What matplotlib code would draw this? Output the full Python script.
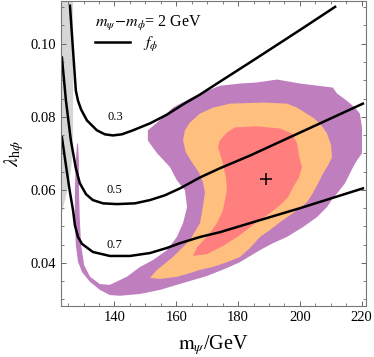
import matplotlib
matplotlib.use("Agg")
import matplotlib.pyplot as plt
from matplotlib.lines import Line2D

plt.rcParams["font.family"] = ["Liberation Serif", "DejaVu Serif"]
plt.rcParams["mathtext.fontset"] = "stix"

# allowed regions (purple = outer, orange = middle, red = inner)
purple_x = [127.9, 127.5, 127.2, 127.2, 127.5, 128.2, 129.5, 132.1, 135.3, 138.5,
            141.8, 148.3, 154.7, 162.2, 169.9, 176.4, 180.6, 187.1, 191.3, 195.8,
            201.0, 205.5, 208.8, 210.7, 212.3, 214.6, 216.2, 217.2, 218.5, 220.1,
            220.1, 219.4, 217.8, 215.2, 212.0, 210.7, 200.1, 192.6, 186.1, 180.6,
            174.1, 168.6, 164.4, 158.9, 153.8, 150.8, 150.8, 153.8, 158.0, 160.2,
            162.8, 163.5, 162.2, 160.2, 157.0, 152.5, 148.3, 144.0, 138.5, 135.3,
            132.1, 130.2, 129.2, 128.8, 128.5, 128.5, 128.2]
purple_y = [0.0727, 0.0681, 0.0599, 0.0517, 0.0449, 0.0403, 0.0375, 0.0348, 0.0326, 0.0312,
            0.0310, 0.0315, 0.0326, 0.0345, 0.0364, 0.0386, 0.0402, 0.0435, 0.0454, 0.0471,
            0.0498, 0.0525, 0.0553, 0.0577, 0.0593, 0.0618, 0.0645, 0.0662, 0.0681, 0.0700,
            0.0771, 0.0809, 0.0825, 0.0844, 0.0864, 0.0880, 0.0891, 0.0902, 0.0894, 0.0891,
            0.0885, 0.0866, 0.0850, 0.0825, 0.0784, 0.0763, 0.0735, 0.0700, 0.0662, 0.0626,
            0.0599, 0.0553, 0.0509, 0.0471, 0.0435, 0.0408, 0.0389, 0.0362, 0.0340, 0.0342,
            0.0362, 0.0394, 0.0449, 0.0517, 0.0599, 0.0681, 0.0727]

orange_x = [151.5, 154.7, 160.2, 164.4, 167.7, 171.9, 176.4, 180.6, 183.9, 187.1,
            190.3, 194.5, 199.1, 202.3, 204.2, 205.9, 207.5, 209.1, 210.4, 210.1,
            208.8, 206.5, 204.2, 199.1, 195.8, 188.1, 177.4, 171.9, 167.7, 164.4,
            162.8, 162.2, 163.1, 165.1, 167.3, 168.6, 169.3, 168.6, 167.7, 164.4,
            158.9, 153.8]
orange_y = [0.0359, 0.0356, 0.0362, 0.0372, 0.0381, 0.0389, 0.0402, 0.0416, 0.0441, 0.0471,
            0.0490, 0.0517, 0.0544, 0.0566, 0.0591, 0.0618, 0.0645, 0.0667, 0.0689, 0.0722,
            0.0754, 0.0782, 0.0798, 0.0825, 0.0836, 0.0839, 0.0836, 0.0825, 0.0809, 0.0784,
            0.0763, 0.0735, 0.0703, 0.0675, 0.0648, 0.0621, 0.0593, 0.0553, 0.0509, 0.0462,
            0.0416, 0.0381]

red_x = [174.1, 176.4, 179.0, 186.1, 193.6, 197.4, 199.1, 199.7, 200.7, 199.7,
         197.8, 196.2, 193.6, 190.3, 186.1, 180.6, 175.1, 169.9, 165.4, 166.7,
         169.9, 173.2, 175.1, 176.4, 176.1, 174.8, 173.5]
red_y = [0.0735, 0.0757, 0.0771, 0.0774, 0.0768, 0.0754, 0.0727, 0.0694, 0.0662, 0.0634,
         0.0607, 0.0580, 0.0558, 0.0536, 0.0512, 0.0476, 0.0446, 0.0424, 0.0419, 0.0443,
         0.0471, 0.0509, 0.0544, 0.0599, 0.0634, 0.0681, 0.0716]

# excluded band at the left edge
gray_x = [122.7, 126.6, 126.6, 126.0, 125.0, 124.0, 123.0, 122.7]
gray_y = [0.112, 0.112, 0.0727, 0.0662, 0.0607, 0.0572, 0.0536, 0.0536]

# f_phi contours
f03_x = [125.6, 126.6, 127.5, 128.2, 129.2, 131.1, 134.3, 136.9, 139.5, 142.4,
         146.0, 151.5, 157.0, 162.2, 167.7, 174.1, 184.8, 200.1, 211.4]
f03_y = [0.1104, 0.0981, 0.0872, 0.0844, 0.0820, 0.0790, 0.0763, 0.0752, 0.0749, 0.0752,
         0.0763, 0.0782, 0.0806, 0.0834, 0.0861, 0.0896, 0.0954, 0.1038, 0.1101]
f05_x = [123.0, 124.3, 125.9, 127.5, 128.8, 130.8, 133.0, 136.3, 140.8, 146.6,
         151.5, 156.3, 161.2, 167.7, 174.1, 183.9, 200.1, 220.4]
f05_y = [0.0962, 0.0844, 0.0735, 0.0659, 0.0618, 0.0588, 0.0572, 0.0563, 0.0561, 0.0563,
         0.0572, 0.0585, 0.0604, 0.0634, 0.0659, 0.0694, 0.0757, 0.0836]
f07_x = [123.0, 124.3, 125.6, 126.6, 127.2, 128.2, 129.5, 133.0, 138.5, 145.0,
         151.5, 157.0, 161.2, 167.7, 174.1, 183.9, 200.1, 220.4]
f07_y = [0.0744, 0.0667, 0.0593, 0.0544, 0.0503, 0.0471, 0.0452, 0.0430, 0.0419, 0.0419,
         0.0427, 0.0441, 0.0454, 0.0471, 0.0484, 0.0509, 0.0550, 0.0604]

contour_labels = ["0.3", "0.5", "0.7"]
label_x = [140.3, 140.0, 140.0]
label_y = [0.0800, 0.0600, 0.0449]

best_fit = (189.0, 0.0629)

fig = plt.figure(figsize=(3.74, 3.57), dpi=100)
ax = fig.add_axes([61 / 374, 51 / 357, 305 / 374, 305 / 357])

ax.fill(gray_x, gray_y, color="#d6d6d6", lw=0)
ax.fill(purple_x, purple_y, color="#bf7fbf", lw=0)
ax.fill(orange_x, orange_y, color="#ffbf7f", lw=0)
ax.fill(red_x, red_y, color="#ff7f7f", lw=0)

for xs, ys in [(f03_x, f03_y), (f05_x, f05_y), (f07_x, f07_y)]:
    ax.plot(xs, ys, color="black", lw=1.8)

for s, lx, ly in zip(contour_labels, label_x, label_y):
    ax.text(lx, ly, s, fontsize=9, ha="center", va="center")

ax.plot(best_fit[0], best_fit[1], marker="+", color="black",
        markersize=9, mew=1.1)

ax.set_xlim(122.7, 221.4)
ax.set_ylim(0.0282, 0.1117)
ax.set_xticks([140, 160, 180, 200, 220])
ax.set_yticks([0.04, 0.06, 0.08, 0.10])
ax.set_yticklabels(["0.04", "0.06", "0.08", "0.10"])
ax.set_xticks(range(125, 221, 5), minor=True)
ax.set_yticks([0.03 + 0.005 * i for i in range(17)], minor=True)
ax.tick_params(which="both", direction="in", top=True, right=True,
               labelsize=10.5, color="#666666")
ax.tick_params(which="major", length=3.5, width=0.7)
ax.tick_params(which="minor", length=2, width=0.6)
for sp in ax.spines.values():
    sp.set_color("#777777")
    sp.set_linewidth(0.8)

ax.set_xlabel(r"$\mathrm{m}_\psi$/GeV", fontsize=14.5, labelpad=7)
ax.set_ylabel(r"$\lambda_{\mathrm{h}\phi}$", fontsize=14.5, labelpad=3)

handle = Line2D([], [], color="black", lw=1.8)
leg = ax.legend([handle], [r"$f_\phi$"], title=r"$m_\psi\!-\!m_\phi$= 2 GeV",
                loc="upper left", bbox_to_anchor=(0.07, 1.0), frameon=False,
                fontsize=11.5, title_fontsize=11.5, handlelength=2.2,
                borderpad=0.3, labelspacing=0.15, handletextpad=0.8)
leg._legend_box.align = "left"

fig.savefig("out.png", dpi=100)
